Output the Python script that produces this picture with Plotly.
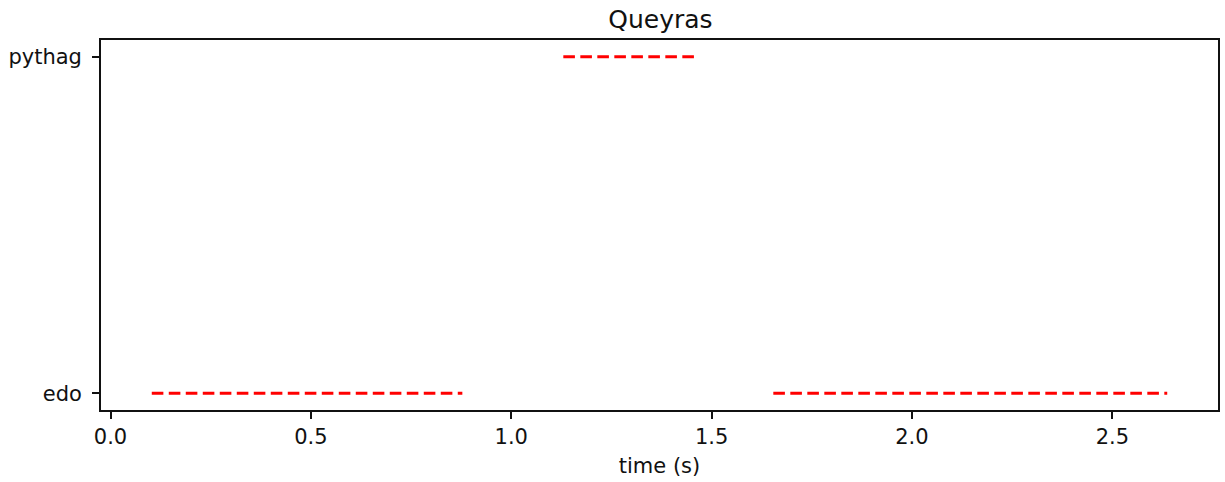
import plotly.graph_objects as go

# Data: labelled time intervals
labels = ["edo", "pythag", "edo"]
starts = [0.103, 1.130, 1.654]
ends = [0.878, 1.462, 2.637]
categories = ["edo", "pythag"]
xticks = [0.0, 0.5, 1.0, 1.5, 2.0, 2.5]
xticklabels = ["0.0", "0.5", "1.0", "1.5", "2.0", "2.5"]

xs, ys = [], []
for lab, s, e in zip(labels, starts, ends):
    xs += [s, e, None]
    ys += [lab, lab, None]

fig = go.Figure()
fig.add_trace(go.Scatter(
    x=xs, y=ys, mode="lines",
    line=dict(color="red", width=3, dash="11.6px,5.4px"),
    showlegend=False, hoverinfo="skip",
))

span = max(ends) - min(starts)
xr = [min(starts) - 0.05 * span, max(ends) + 0.05 * span]

FONT = "DejaVu Sans"
TXT = "#111111"
fig.update_layout(
    width=1225, height=482,
    margin=dict(l=101, r=5, t=40, b=72, pad=0),
    paper_bgcolor="white", plot_bgcolor="white",
    font=dict(family=FONT, size=21, color=TXT),
    title=dict(text="Queyras", x=(101 + 1220) / 2 / 1225, xanchor="center",
               y=1 - 19 / 482, yanchor="middle", yref="container",
               font=dict(family=FONT, size=25, color=TXT)),
)
fig.update_xaxes(
    range=xr, tickvals=xticks, ticktext=xticklabels,
    showgrid=False, zeroline=False,
    showline=True, linecolor=TXT, linewidth=1.7, mirror=True,
    ticks="outside", ticklen=7, tickwidth=1.7, tickcolor=TXT,
    tickfont=dict(family=FONT, size=21, color=TXT),
    title=dict(text="time (s)", font=dict(family=FONT, size=21, color=TXT), standoff=10),
)
fig.update_yaxes(
    type="category", categoryorder="array", categoryarray=categories,
    range=[-0.05, 1.05],
    showgrid=False, zeroline=False,
    showline=True, linecolor=TXT, linewidth=1.7, mirror=True,
    ticks="outside", ticklen=7, tickwidth=1.7, tickcolor=TXT,
    ticklabelstandoff=6,
    tickfont=dict(family=FONT, size=21, color=TXT),
)

fig.write_html("out.html")
